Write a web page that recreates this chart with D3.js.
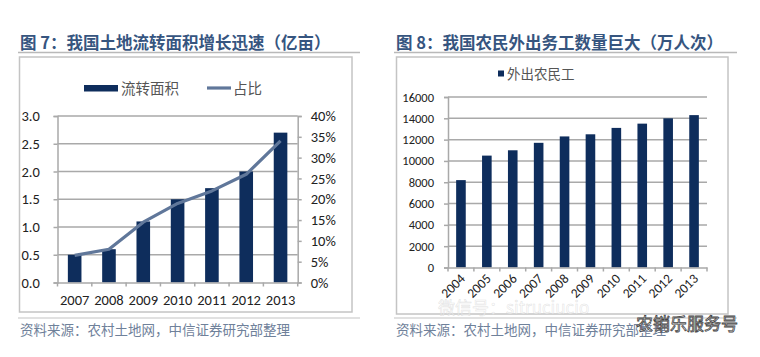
<!DOCTYPE html>
<html><head><meta charset="utf-8">
<script src="https://cdn.jsdelivr.net/npm/d3@7"></script>
<style>
html,body{margin:0;padding:0;background:#fff;}
svg{display:block;}
.tick text{font-family:Carlito,Lato,"Liberation Sans",sans-serif;fill:#222;}
</style></head>
<body>
<svg id="c" width="760" height="357"></svg>
<script>
// ---- data ----
const years1 = ["2007","2008","2009","2010","2011","2012","2013"];
const area = [0.5, 0.6, 1.1, 1.5, 1.7, 2.0, 2.7];           // 流转面积 (亿亩)
const share = [0.065, 0.08, 0.145, 0.19, 0.22, 0.26, 0.34];  // 占比
const yTicks1 = [0, 0.5, 1.0, 1.5, 2.0, 2.5, 3.0];
const pctTicks = [0, 0.05, 0.10, 0.15, 0.20, 0.25, 0.30, 0.35, 0.40];

const years2 = ["2004","2005","2006","2007","2008","2009","2010","2011","2012","2013"];
const workers = [8200, 10500, 11000, 11700, 12300, 12500, 13100, 13500, 14000, 14300]; // 外出农民工 (万人次)
const yTicks2 = [0, 2000, 4000, 6000, 8000, 10000, 12000, 14000, 16000];

const title1 = "图 7：我国土地流转面积增长迅速（亿亩）";
const title2 = "图 8：我国农民外出务工数量巨大（万人次）";
const source = "资料来源：农村土地网，中信证券研究部整理";

// ---- style ----
const BAR = "#0e2d5c", LINE = "#60779a", GRID = "#a9a9a9", TITLE = "#36557f";
const CJK = '"Noto Sans CJK SC","Noto Sans",sans-serif';
const svg = d3.select("#c");

function frame(x0, x1, boxX0, boxX1, boxY1, title){
  svg.append("text").attr("x", x0+2).attr("y", 48.5).text(title)
    .attr("font-family", CJK).attr("font-size", 16.5).attr("font-weight", 700).attr("fill", TITLE);
  svg.append("line").attr("x1", x0).attr("x2", x1).attr("y1", 52.5).attr("y2", 52.5)
    .attr("stroke", "#b9b9b9").attr("stroke-width", 1.5);
  svg.append("rect").attr("x", boxX0).attr("y", 57).attr("width", boxX1-boxX0).attr("height", boxY1-57)
    .attr("fill", "none").attr("stroke", "#c4c4c4").attr("stroke-width", 1.5);
  svg.append("line").attr("x1", x0).attr("x2", x1).attr("y1", 318).attr("y2", 318)
    .attr("stroke", "#c4c4c4").attr("stroke-width", 1.2);
  svg.append("text").attr("x", x0+2).attr("y", 335).text(source)
    .attr("font-family", CJK).attr("font-size", 13.5).attr("fill", "#6f819a");
}

function styleAxis(g){
  g.select(".domain").attr("stroke", GRID).attr("stroke-width", 1.5);
  g.selectAll(".tick line").attr("stroke", GRID).attr("stroke-width", 1.5);
}

// ================= Chart 1 =================
frame(18, 360, 19.5, 352, 312, title1);
{
  const L = 57.5, R = 297.7, T = 116, B = 282.5;
  const xb = d3.scaleBand().domain(years1).range([L, R]);
  const y = d3.scaleLinear().domain([0, 3]).range([B, T]);
  const y2 = d3.scaleLinear().domain([0, 0.4]).range([B, T]);

  // gridlines
  svg.append("g").selectAll("line").data(yTicks1.slice(1)).join("line")
    .attr("x1", L).attr("x2", R).attr("y1", d => y(d)).attr("y2", d => y(d))
    .attr("stroke", GRID).attr("stroke-width", 1.5);

  // bars
  svg.append("g").selectAll("rect").data(area).join("rect")
    .attr("x", (d, i) => xb(years1[i]) + xb.bandwidth()/2 - 6.8).attr("width", 13.6)
    .attr("y", d => y(d)).attr("height", d => B - y(d)).attr("fill", BAR);

  // line
  svg.append("path").datum(share)
    .attr("d", d3.line().x((d, i) => xb(years1[i]) + xb.bandwidth()/2).y(d => y2(d)))
    .attr("fill", "none").attr("stroke", LINE).attr("stroke-width", 3.2).attr("stroke-linejoin", "round");

  // axes
  const gl = svg.append("g").attr("transform", `translate(${L},0)`)
    .call(d3.axisLeft(y).tickValues(yTicks1).tickFormat(d3.format(".1f")).tickSize(4).tickPadding(14));
  styleAxis(gl); gl.selectAll("text").attr("font-size", 14.5);
  gl.selectAll(".tick text").attr("text-anchor", "start").attr("x", -36);

  const gr = svg.append("g").attr("transform", `translate(${R},0)`)
    .call(d3.axisRight(y2).tickValues(pctTicks).tickFormat(d3.format(".0%")).tickSize(4).tickPadding(9));
  styleAxis(gr); gr.selectAll("text").attr("font-size", 14.5);

  const gb = svg.append("g").attr("transform", `translate(0,${B})`)
    .call(d3.axisBottom(xb).tickSize(0).tickPadding(12));
  styleAxis(gb); gb.selectAll("text").attr("font-size", 14.5);
  // boundary tick marks
  svg.append("g").selectAll("line").data(years1.concat(["end"])).join("line")
    .attr("x1", (d, i) => L + i * xb.step()).attr("x2", (d, i) => L + i * xb.step())
    .attr("y1", B).attr("y2", B + 4).attr("stroke", GRID).attr("stroke-width", 1.5);

  // legend
  const lg = svg.append("g");
  lg.append("rect").attr("x", 84).attr("y", 85).attr("width", 34).attr("height", 6.5).attr("fill", BAR);
  lg.append("text").attr("x", 121).attr("y", 93.5).text("流转面积")
    .attr("font-family", CJK).attr("font-size", 14.5).attr("fill", "#555");
  lg.append("line").attr("x1", 207).attr("x2", 231).attr("y1", 88).attr("y2", 88)
    .attr("stroke", LINE).attr("stroke-width", 3.2);
  lg.append("text").attr("x", 233).attr("y", 93.5).text("占比")
    .attr("font-family", CJK).attr("font-size", 14.5).attr("fill", "#555");
}

// ================= Chart 2 =================
frame(394, 737, 396.5, 728, 314, title2);
{
  const L = 448, R = 707, T = 97, B = 267.5;
  const xb = d3.scaleBand().domain(years2).range([L, R]);
  const y = d3.scaleLinear().domain([0, 16000]).range([B, T]);

  svg.append("g").selectAll("line").data(yTicks2.slice(1)).join("line")
    .attr("x1", L).attr("x2", R).attr("y1", d => y(d)).attr("y2", d => y(d))
    .attr("stroke", GRID).attr("stroke-width", 1.5);

  svg.append("g").selectAll("rect").data(workers).join("rect")
    .attr("x", (d, i) => xb(years2[i]) + xb.bandwidth()/2 - 4.8).attr("width", 9.6)
    .attr("y", d => y(d)).attr("height", d => B - y(d)).attr("fill", BAR);

  const gl = svg.append("g").attr("transform", `translate(${L},0)`)
    .call(d3.axisLeft(y).tickValues(yTicks2).tickFormat(d3.format("d")).tickSize(4).tickPadding(10));
  styleAxis(gl); gl.selectAll("text").attr("font-size", 12.5);

  const gb = svg.append("g").attr("transform", `translate(0,${B})`)
    .call(d3.axisBottom(xb).tickSize(0).tickPadding(0));
  styleAxis(gb);
  gb.selectAll(".tick text").attr("font-size", 13.5).attr("text-anchor", "end")
    .attr("dy", 0).attr("transform", "translate(5,12) rotate(-45)");
  svg.append("g").selectAll("line").data(years2.concat(["end"])).join("line")
    .attr("x1", (d, i) => L + i * xb.step()).attr("x2", (d, i) => L + i * xb.step())
    .attr("y1", B).attr("y2", B + 4).attr("stroke", GRID).attr("stroke-width", 1.5);

  const lg = svg.append("g");
  lg.append("rect").attr("x", 498).attr("y", 70.5).attr("width", 6).attr("height", 6).attr("fill", BAR);
  lg.append("text").attr("x", 507).attr("y", 79).text("外出农民工")
    .attr("font-family", CJK).attr("font-size", 13.5).attr("fill", "#555");
}

// watermark
svg.append("text").attr("x", 438).attr("y", 314).text("微信号：sitruciucio")
  .attr("font-family", CJK).attr("font-size", 17).attr("fill", "#fff").attr("fill-opacity", 0.5)
  .attr("stroke", "#ccc").attr("stroke-width", 0.5).attr("stroke-opacity", 0.6);
svg.append("text").attr("x", 636).attr("y", 330).text("农销乐服务号")
  .attr("font-family", CJK).attr("font-size", 17).attr("fill", "#fff")
  .attr("stroke", "#444").attr("stroke-width", 0.8);
</script>
</body></html>
